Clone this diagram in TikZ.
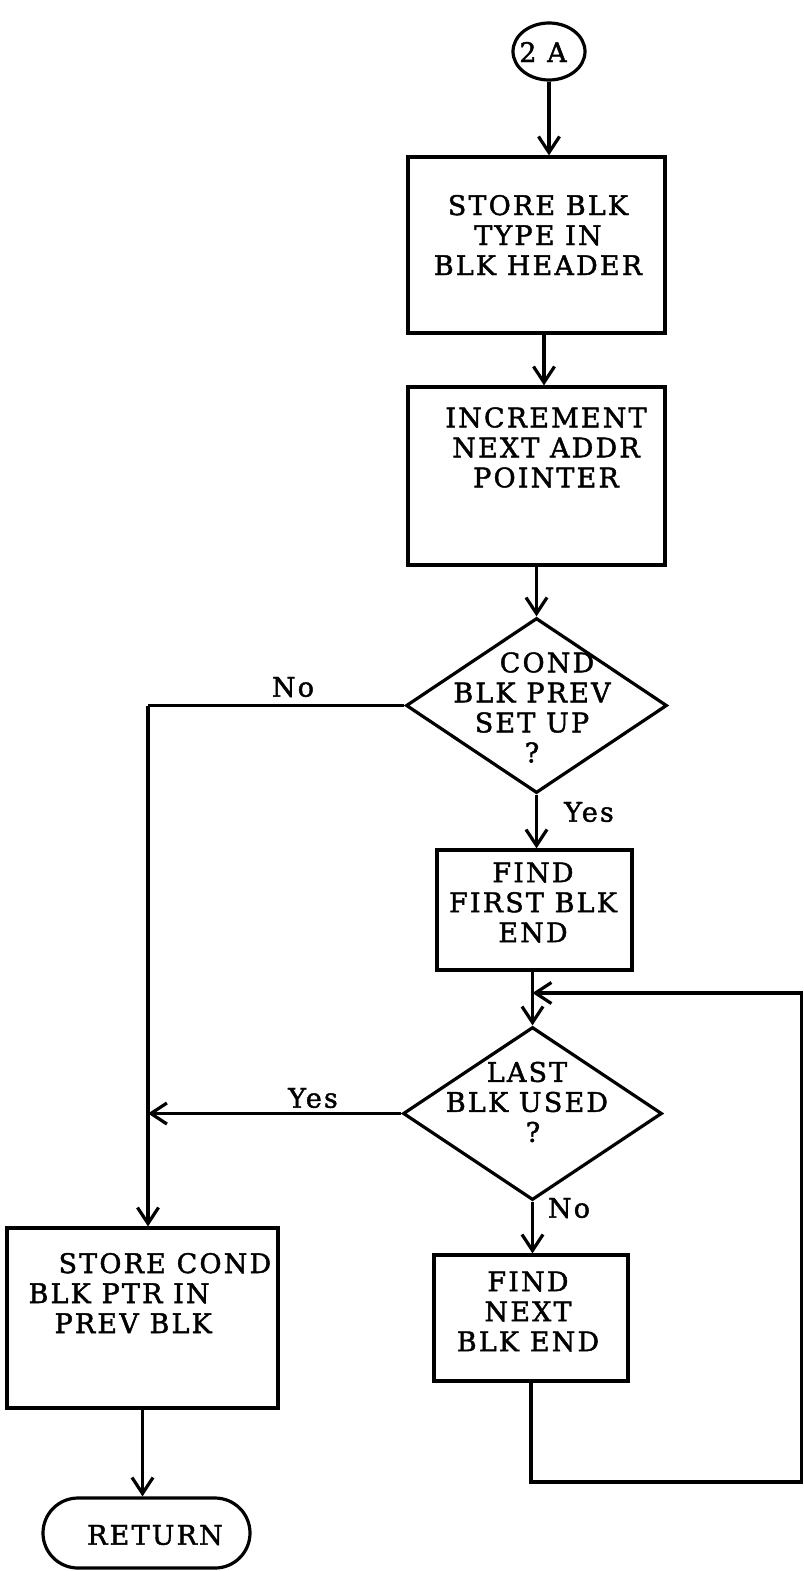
\documentclass[tikz,border=0pt]{standalone}
\usepackage{fontspec}
\newfontfamily\flowfont[LetterSpace=8,FakeBold=1.6]{DejaVu Serif}
\usetikzlibrary{arrows.meta,shapes.geometric}

\begin{document}
\begin{tikzpicture}[x=1pt,y=-1pt,
  line width=3.2pt,
  arr/.style={-{Straight Barb[length=16pt,width=21pt]}},
  box/.style={draw, rectangle, inner sep=0pt},
  dia/.style={draw, diamond, inner sep=0pt},
  txt/.style={inner sep=0pt, align=center,
    font={\flowfont\fontsize{27}{30}\selectfont}},
  lbl/.style={inner sep=0pt, font={\flowfont\fontsize{27}{30}\selectfont}}
]
\useasboundingbox (0,0) rectangle (803,1571);

% entry connector
\node[draw, ellipse, inner sep=0pt, minimum width=72pt, minimum height=57pt] (c2a) at (549,51.5) {};
\node[lbl] (c2at) at (543,52) {2 A};

% process boxes
\node[box, minimum width=257pt, minimum height=176pt] (b1) at (536.5,245) {};
\node[box, minimum width=257pt, minimum height=178pt] (b2) at (536.5,476) {};
\node[box, minimum width=195pt, minimum height=120pt] (b3) at (534.5,910) {};
\node[box, minimum width=194pt, minimum height=126pt] (b4) at (531,1318) {};
\node[box, minimum width=271pt, minimum height=180pt] (b5) at (142.5,1318) {};

% decisions
\node[dia, minimum width=261pt, minimum height=175pt] (d1) at (536.5,705.5) {};
\node[dia, minimum width=259pt, minimum height=173pt] (d2) at (532.5,1113.5) {};

% terminal
\node[draw, rectangle, rounded corners=35pt, inner sep=0pt,
      minimum width=207pt, minimum height=70pt] (ret) at (146.5,1533) {};

% texts
\node[txt] (t1) at (538,235) {STORE BLK\\TYPE IN\\BLK HEADER};
\node[txt] (t2) at (546,447.5) {INCREMENT\\NEXT ADDR\\POINTER};
\node[txt] (t3) at (532,707.5) {\hspace*{30pt}COND\\BLK PREV\\SET UP\\?};
\node[txt] (t4) at (533,902.5) {FIND\\FIRST BLK\\END};
\node[txt] (t5) at (527,1102) {LAST\\BLK USED\\\hspace*{12pt}?};
\node[txt] (t6) at (528,1311.5) {FIND\\NEXT\\BLK END};
\node[txt, align=left, anchor=west] (t7) at (27,1293) {\hspace*{30pt}STORE COND\\BLK PTR IN\\\hspace*{26pt}PREV BLK};
\node[lbl] (t8) at (155,1535) {RETURN};

% branch labels
\node[lbl] (l1) at (293,687) {No};
\node[lbl] (l2) at (589,812) {Yes};
\node[lbl] (l3) at (313,1098) {Yes};
\node[lbl] (l4) at (569,1208) {No};

% junctions
\coordinate (jl) at (148,705.5);
\coordinate (jm) at (532.5,993);
\coordinate (lpA) at (801.5,1482);
\coordinate (lpB) at (801.5,993);

% flow
\draw[arr] (c2a.south) -- (c2a.south |- b1.north);
\draw[arr] ([xshift=7.5pt]b1.south) -- ([xshift=7.5pt]b1.south |- b2.north);
\draw[arr] (d1.north |- b2.south) -- (d1.north);
\draw[arr] (d1.south) -- (d1.south |- b3.north);
\draw[arr] (d2.north |- b3.south) -- (d2.north);
\draw[arr] (d2.south) -- (d2.south |- b4.north);
\draw[arr] (b4.south) |- (lpA) -- (lpB) -- (jm);
\draw (d1.west) -- (jl);
\draw[arr] (jl) -- (jl |- b5.north);
\draw[arr] (d2.west) -- (d2.west -| jl);
\draw[arr] (b5.south) -- (b5.south |- ret.north);
\end{tikzpicture}
\end{document}
